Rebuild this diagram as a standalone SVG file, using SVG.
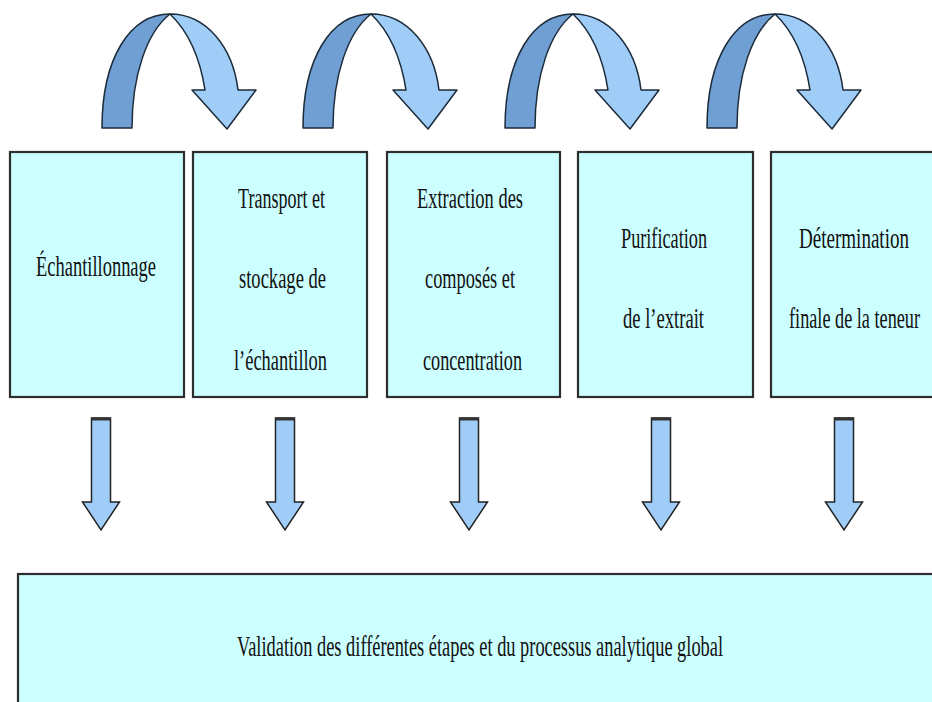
<svg xmlns="http://www.w3.org/2000/svg" xmlns:xlink="http://www.w3.org/1999/xlink" width="932" height="702" viewBox="0 0 932 702">
<style>
.box{fill:#ccffff;stroke:#2e2e2e;stroke-width:2.2}
.t{font-family:'Liberation Serif','DejaVu Serif',serif;font-size:29px;fill:#111;text-anchor:middle}
.dark{fill:#6f9fd3;stroke:#1c2b3a;stroke-width:1.5;stroke-linejoin:round}
.light{fill:#9fcdf8;stroke:#1c2b3a;stroke-width:1.5;stroke-linejoin:round}
.down{fill:#9fcdf8;stroke:#222;stroke-width:1.5;stroke-linejoin:miter}
.cap{stroke:#333;stroke-width:3}
</style>
<defs>
<g id="curve">
<path class="dark" d="M102,128 C102,58 130,14 170,14 C147,32 132,75 132,128 Z"/>
<path class="light" d="M170,14 C207,14 233,48 238,90 L256,90 L227,129 L192,90 L205,90 C200,58 189,32 170,14 Z"/>
</g>
<g id="downArrow">
<path class="down" d="M-9.5,418 H9.5 V502 H18.5 L0,530 L-18.5,502 H-9.5 Z"/>
<line class="cap" x1="-9.5" y1="419" x2="9.5" y2="419"/>
</g>
</defs>
<rect width="932" height="702" fill="#ffffff"/>

<g id="connectors">
<use xlink:href="#curve" transform="translate(0,0)"/>
<use xlink:href="#curve" transform="translate(201,0)"/>
<use xlink:href="#curve" transform="translate(403,0)"/>
<use xlink:href="#curve" transform="translate(605,0)"/>
<use xlink:href="#downArrow" transform="translate(101,0)"/>
<use xlink:href="#downArrow" transform="translate(285,0)"/>
<use xlink:href="#downArrow" transform="translate(469,0)"/>
<use xlink:href="#downArrow" transform="translate(661,0)"/>
<use xlink:href="#downArrow" transform="translate(844,0)"/>
</g>

<g id="node-echantillonnage">
<rect class="box" x="10" y="152" width="174" height="245"/>
<text class="t" transform="translate(96,276) scale(0.62,1)" textLength="193.5" lengthAdjust="spacingAndGlyphs">Échantillonnage</text>
</g>
<g id="node-transport">
<rect class="box" x="193" y="152" width="174" height="245"/>
<text class="t" transform="translate(281.5,208) scale(0.62,1)" textLength="140.3" lengthAdjust="spacingAndGlyphs">Transport et</text>
<text class="t" transform="translate(282.5,288) scale(0.62,1)" textLength="140.3" lengthAdjust="spacingAndGlyphs">stockage de</text>
<text class="t" transform="translate(280.5,370) scale(0.62,1)" textLength="150" lengthAdjust="spacingAndGlyphs">l’échantillon</text>
</g>
<g id="node-extraction">
<rect class="box" x="387" y="152" width="173" height="245"/>
<text class="t" transform="translate(470,208) scale(0.62,1)" textLength="171" lengthAdjust="spacingAndGlyphs">Extraction des</text>
<text class="t" transform="translate(470,288) scale(0.62,1)" textLength="145.2" lengthAdjust="spacingAndGlyphs">composés et</text>
<text class="t" transform="translate(472.5,370) scale(0.62,1)" textLength="159.7" lengthAdjust="spacingAndGlyphs">concentration</text>
</g>
<g id="node-purification">
<rect class="box" x="578" y="152" width="175" height="245"/>
<text class="t" transform="translate(664,248) scale(0.62,1)" textLength="138.7" lengthAdjust="spacingAndGlyphs">Purification</text>
<text class="t" transform="translate(663.5,328) scale(0.62,1)" textLength="130.6" lengthAdjust="spacingAndGlyphs">de l’extrait</text>
</g>
<g id="node-determination">
<rect class="box" x="771" y="152" width="174" height="245"/>
<text class="t" transform="translate(854,248) scale(0.62,1)" textLength="177.4" lengthAdjust="spacingAndGlyphs">Détermination</text>
<text class="t" transform="translate(854.5,328) scale(0.62,1)" textLength="211.3" lengthAdjust="spacingAndGlyphs">finale de la teneur</text>
</g>
<g id="node-validation">
<rect class="box" x="18" y="574" width="930" height="140"/>
<text class="t" transform="translate(480,656) scale(0.62,1)" textLength="783.9" lengthAdjust="spacingAndGlyphs">Validation des différentes étapes et du processus analytique global</text>
</g>
</svg>
